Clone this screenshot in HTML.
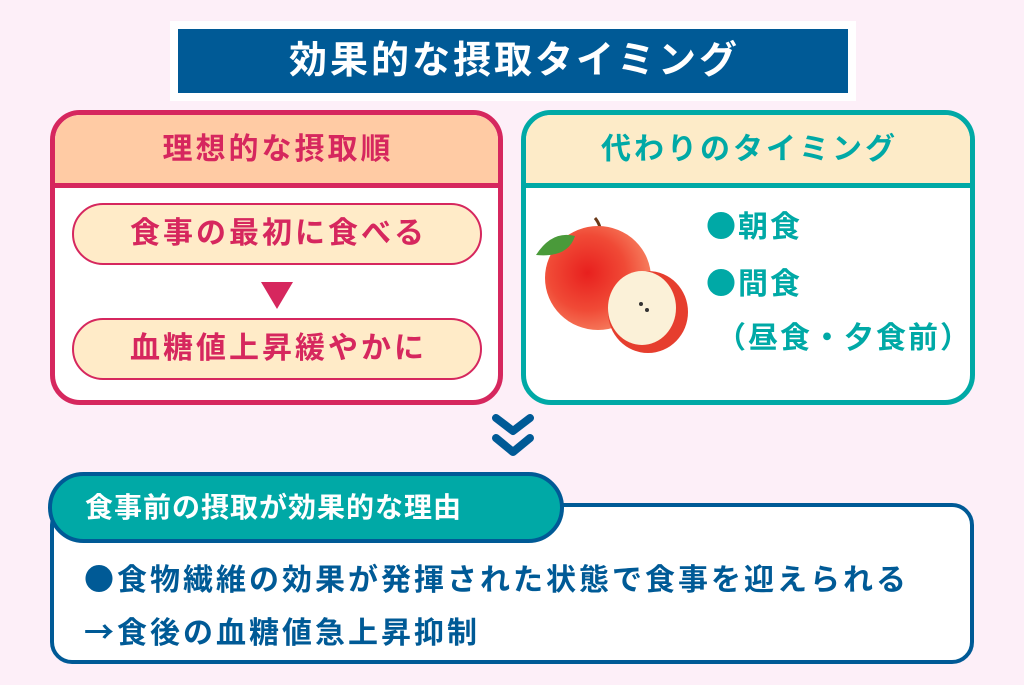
<!DOCTYPE html>
<html><head><meta charset="utf-8"><style>
*{margin:0;padding:0;box-sizing:border-box}
body{width:1024px;height:685px;background:#fdeff8;position:relative;overflow:hidden;font-family:"Liberation Sans","Noto Sans CJK JP",sans-serif;font-weight:bold}
.abs{position:absolute}
.t{white-space:nowrap;text-align:center}
.j{font-family:"Noto Sans CJK JP",sans-serif}
</style></head><body>
<div class="abs" style="left:170px;top:21px;width:686px;height:80px;background:#fff"></div>
<div class="abs t" style="left:178px;top:29px;width:670px;height:64px;background:#005a96;color:#fff;font-size:38px;letter-spacing:3px;line-height:64px;padding-left:3px">効果的な摂取タイミング</div>

<div class="abs" style="left:50px;top:110px;width:453px;height:295px;border:5px solid #d6275e;border-radius:30px;background:#fff;overflow:hidden">
  <div class="t" style="height:73px;background:#ffcba4;border-bottom:5px solid #d6275e;color:#d6275e;font-size:30px;letter-spacing:3px;line-height:70px;padding-left:3px">理想的な摂取順</div>
</div>
<div class="abs t" style="left:72px;top:203px;width:410px;height:62px;border:2px solid #d6275e;border-radius:31px;background:#ffebc8;color:#d6275e;font-size:30px;letter-spacing:3px;line-height:58px;padding-left:3px">食事の最初に食べる</div>
<div class="abs" style="left:261px;top:282px;width:0;height:0;border-left:16px solid transparent;border-right:16px solid transparent;border-top:27px solid #d6275e"></div>
<div class="abs t" style="left:72px;top:318px;width:410px;height:62px;border:2px solid #d6275e;border-radius:31px;background:#ffebc8;color:#d6275e;font-size:30px;letter-spacing:3px;line-height:58px;padding-left:3px">血糖値上昇緩やかに</div>

<div class="abs" style="left:521px;top:110px;width:454px;height:295px;border:5px solid #00a9a6;border-radius:30px;background:#fff;overflow:hidden">
  <div class="t" style="height:73px;background:#fdebc8;border-bottom:5px solid #00a9a6;color:#00a9a6;font-size:30px;letter-spacing:3px;line-height:70px;padding-left:3px">代わりのタイミング</div>
</div>
<svg class="abs" style="left:530px;top:210px" width="170" height="150" viewBox="0 0 170 150">
  <defs><radialGradient id="ag" cx="0.4" cy="0.45" r="0.6"><stop offset="0" stop-color="#e8201e"/><stop offset="0.6" stop-color="#f04a36"/><stop offset="1" stop-color="#f67d5e"/></radialGradient></defs>
  <path d="M65 8 Q72 16 71 30" stroke="#6b3a1a" stroke-width="3" fill="none"/>
  <ellipse cx="68" cy="68" rx="53" ry="52" fill="url(#ag)"/>
  <path d="M6 45 Q22 20 45 26 Q38 48 6 45Z" fill="#4a9a3a"/>
  <ellipse cx="118" cy="102" rx="40" ry="41" fill="#e63e2e"/>
  <ellipse cx="112" cy="98" rx="34" ry="37" fill="#fbf1d8"/>
  <circle cx="111" cy="94" r="2" fill="#333"/><circle cx="117" cy="100" r="2" fill="#333"/>
</svg>
<div class="abs" style="left:706px;top:204px;color:#00a9a6;font-size:30px;letter-spacing:2px;line-height:40px;white-space:nowrap"><span class="j">●</span>朝食</div>
<div class="abs" style="left:706px;top:261px;color:#00a9a6;font-size:30px;letter-spacing:2px;line-height:40px;white-space:nowrap"><span class="j">●</span>間食</div>
<div class="abs" style="left:716px;top:319px;color:#00a9a6;font-size:30px;letter-spacing:2px;line-height:40px;white-space:nowrap">（昼食・夕食前）</div>

<svg class="abs" style="left:490px;top:412px" width="46" height="50" viewBox="0 0 46 50">
  <path d="M6 6 L23 19 L40 6" stroke="#005a96" stroke-width="8" fill="none" stroke-linecap="round" stroke-linejoin="round"/>
  <path d="M6 26 L23 40 L40 26" stroke="#005a96" stroke-width="8" fill="none" stroke-linecap="round" stroke-linejoin="round"/>
</svg>

<div class="abs" style="left:50px;top:503px;width:924px;height:161px;border:4px solid #005a96;border-radius:22px;background:#fff"></div>
<div class="abs" style="left:48px;top:472px;width:516px;height:71px;border:4px solid #005a96;border-radius:36px;background:#00a9a6;color:#fff;font-size:28px;letter-spacing:1px;line-height:63px;padding-left:33px;white-space:nowrap">食事前の摂取が効果的な理由</div>
<div class="abs" style="left:84px;top:556px;color:#005a96;font-size:30px;letter-spacing:3px;line-height:42px;white-space:nowrap"><span class="j">●</span>食物繊維の効果が発揮された状態で食事を迎えられる</div>
<div class="abs" style="left:84px;top:609px;color:#005a96;font-size:30px;letter-spacing:3px;line-height:42px;white-space:nowrap"><span class="j">→</span>食後の血糖値急上昇抑制</div>
</body></html>
